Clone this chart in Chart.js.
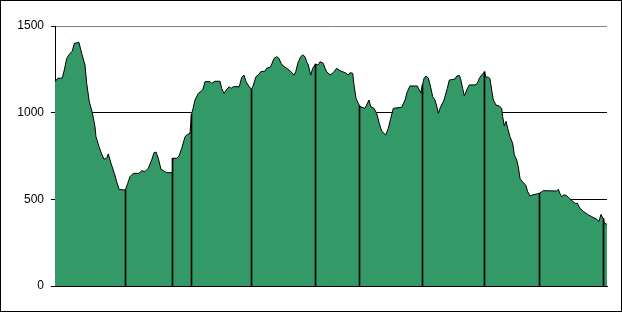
<!DOCTYPE html>
<html>
<head>
<meta charset="utf-8">
<script src="https://cdn.jsdelivr.net/npm/chart.js@4.4.1/dist/chart.umd.min.js"></script>
<style>
    body { margin: 0; background: #fff; }
    #wrap { width: 622px; height: 312px; border: 1px solid #000; box-sizing: border-box; }
</style>
</head>
<body>
<div id="wrap"><canvas id="profileChart"></canvas></div>
<script>
// elevation profile, distance along route vs elevation (m)
const distance = [
    0, 2.7, 7.3, 9.3, 11.7, 15, 17.3, 19.3, 24, 26.7, 30, 31.7, 34.3, 37.3, 40, 41, 44, 46.7, 49, 51.7,
    53.3, 56, 59.3, 61.7, 64, 68.3, 70.5, 72.7, 75, 78.3, 84, 86.7, 90, 93.3, 96.7, 99, 101, 103.3, 106, 108.3,
    111.7, 117, 117.5, 121.7, 124, 126.7, 130, 132.7, 135, 136.5, 137.7, 140, 143.3, 147.7, 150, 155, 156.7, 160, 165, 166.7,
    169, 171.7, 174.3, 176, 178.3, 184.3, 186.7, 189, 191, 193.7, 196.5, 198.3, 201, 203.3, 205.7, 210, 211.7, 215.7, 219, 221.7,
    224, 226, 228.3, 231.7, 235, 239, 240.7, 243.3, 245.7, 247.7, 250, 251.7, 253.3, 255.7, 257.7, 260.5, 263.3, 265, 268.3, 270,
    271.7, 275, 278.3, 281.7, 285, 290, 293.3, 295, 297.7, 299, 301, 303.3, 304.5, 305, 310, 314, 315.7, 319, 321.7, 324.3,
    326.7, 330.7, 333.3, 335.7, 338.3, 346.7, 350, 352.3, 355, 359, 362.3, 364.3, 365.7, 367.5, 369, 371, 373.3, 375.7, 377.7, 380,
    381.7, 383.3, 385, 389, 392.3, 394.3, 400, 401.7, 404.3, 405.5, 407.7, 409.3, 411.7, 414.3, 420, 422.3, 424.3, 426.7, 429.5, 431,
    433.3, 435, 436.7, 438.3, 441, 444.3, 446.7, 447.7, 449.3, 451, 452.7, 455, 457.7, 459.3, 461.7, 463.3, 465, 467.3, 470.7, 472.7,
    475, 477.3, 481.7, 484.5, 486.7, 488.3, 501.7, 503.3, 505, 506.7, 509.3, 511.7, 514.3, 518.3, 520.7, 522.3, 525, 528.3, 533.3, 536.7,
    541.7, 544, 546, 547.7, 548.5, 549.3, 552
];
const elevation = [
    1179, 1198, 1200, 1246, 1313, 1342, 1355, 1400, 1405, 1342, 1275, 1169, 1063, 1000, 919, 861, 804, 762, 731, 737,
    762, 708, 650, 602, 558, 554, 556, 592, 631, 650, 650, 665, 660, 679, 727, 769, 773, 737, 673, 665,
    654, 654, 737, 737, 750, 794, 861, 875, 881, 990, 1015, 1073, 1111, 1131, 1179, 1179, 1169, 1181, 1181, 1140,
    1111, 1134, 1150, 1140, 1150, 1150, 1204, 1217, 1179, 1154, 1134, 1158, 1208, 1217, 1236, 1240, 1256, 1265, 1313, 1323,
    1313, 1285, 1269, 1256, 1242, 1217, 1236, 1294, 1323, 1333, 1323, 1294, 1275, 1217, 1256, 1280, 1275, 1294, 1285, 1256,
    1236, 1217, 1231, 1256, 1242, 1231, 1217, 1231, 1227, 1160, 1083, 1054, 1040, 1035, 1025, 1073, 1035, 1025, 996, 938,
    894, 871, 910, 967, 1025, 1031, 1073, 1121, 1154, 1154, 1154, 1131, 1115, 1160, 1198, 1211, 1200, 1146, 1092, 1073,
    1038, 996, 1025, 1073, 1140, 1188, 1194, 1211, 1215, 1198, 1140, 1096, 1131, 1160, 1160, 1169, 1198, 1217, 1236, 1204,
    1206, 1194, 1131, 1073, 1044, 1038, 1025, 977, 923, 950, 910, 861, 823, 756, 727, 688, 621, 602, 583, 544,
    519, 525, 531, 535, 544, 550, 548, 558, 533, 515, 527, 521, 506, 486, 475, 478, 448, 431, 410, 400,
    385, 373, 413, 392, 390, 362, 356
];

// waypoints marked with drop lines
const markerDistance = [70.5, 117.5, 136.5, 196.5, 260.5, 304.5, 367.5, 429.5, 484.5, 548.5];
const markerElevation = [556, 737, 990, 1134, 1280, 1040, 1160, 1236, 535, 390];

const yTicks = [0, 500, 1000, 1500];

const profileData = distance.map((d, i) => ({ x: d, y: elevation[i] }));
const markerData = markerDistance.map((d, i) => ({ x: d, y: markerElevation[i] }));

const ctx = document.getElementById('profileChart').getContext('2d');
const profileChart = new Chart(ctx, {
    type: 'line',
    data: {
        datasets: [{
            type: 'bar',
            label: 'Waypoints',
            data: markerData,
            backgroundColor: '#000000',
            barThickness: 1,
            grouped: false,
            order: 0
        }, {
            label: 'Elevation',
            data: profileData,
            borderColor: '#000000',
            borderWidth: 1,
            backgroundColor: '#339966',
            fill: 'origin',
            pointRadius: 0,
            tension: 0,
            order: 1
        }]
    },
    options: {
        responsive: true,
        maintainAspectRatio: false,
        animation: false,
        layout: { padding: { top: 25, bottom: 25, left: 0, right: 14 } },
        plugins: {
            legend: { display: false },
            tooltip: { enabled: false }
        },
        scales: {
            x: {
                type: 'linear',
                min: 0,
                max: 552,
                offset: false,
                afterBuildTicks: (scale) => { scale.ticks = [{ value: 552 }]; },
                afterFit: (scale) => { scale.height = 0; },
                ticks: { display: false },
                grid: { color: '#808080', drawTicks: false, lineWidth: 1 },
                border: { color: '#000000', width: 1 }
            },
            y: {
                min: 0,
                max: 1500,
                afterBuildTicks: (scale) => { scale.ticks = yTicks.map(v => ({ value: v })); },
                afterFit: (scale) => { scale.width = 54; },
                ticks: {
                    color: '#000000',
                    padding: 7,
                    font: { family: 'Liberation Sans, Arial, sans-serif', size: 12 },
                    callback: (value) => String(value) // no thousands separator
                },
                grid: {
                    color: (c) => c.tick && c.tick.value === 1500 ? '#808080' : '#000000',
                    tickColor: '#000000',
                    tickLength: 4,
                    lineWidth: 1
                },
                border: { color: '#000000', width: 1 }
            }
        }
    }
});
</script>
</body>
</html>
